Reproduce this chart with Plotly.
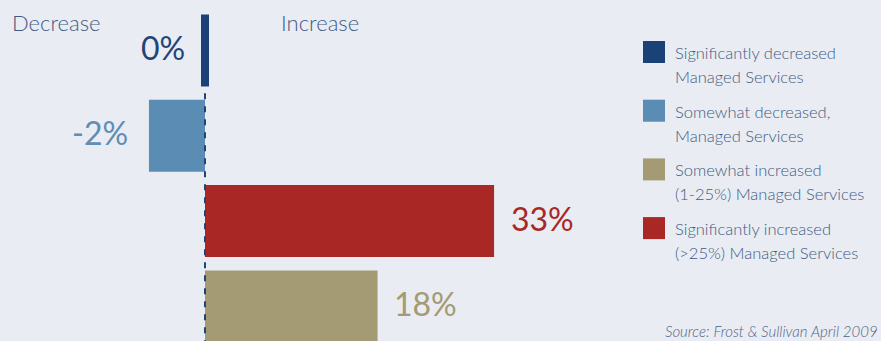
import plotly.graph_objects as go

# ---------------- data ----------------
categories = [
    "Significantly decreased Managed Services",
    "Somewhat decreased, Managed Services",
    "Significantly increased (>25%) Managed Services",
    "Somewhat increased (1-25%) Managed Services",
]
# bar lengths as drawn in the picture (percentage points)
bar_values = [0, -6.4, 33, 19.7]
value_labels = ["0%", "-2%", "33%", "18%"]

legend_order = [0, 1, 3, 2]
legend_lines = {
    0: ["Significantly decreased", "Managed Services"],
    1: ["Somewhat decreased,", "Managed Services"],
    3: ["Somewhat increased", "(1-25%) Managed Services"],
    2: ["Significantly increased", "(>25%) Managed Services"],
}
side_labels = ["Decrease", "Increase"]
source_text = "Source: Frost & Sullivan April 2009"

# ---------------- style ----------------
W, H = 881, 341
colors = ["#1b4276", "#5b8cb3", "#a92724", "#a49a74"]
label_colors = ["#1f4478", "#5e8db5", "#a92724", "#a49a74"]
text_color = "#3f5b84"
bg = "#e9ecf2"
FONT = "Lato"

ZERO_PX = 205.0
PX_PER_UNIT = 8.76
ROW0_PX = 50.5
ROW_PX = 85.3
BAR_PX = 72.0
ZERO_BAR_MIN = 8.0 / PX_PER_UNIT
label_gap = [14, 19, 15, 14]

x_range = [-ZERO_PX / PX_PER_UNIT, (W - ZERO_PX) / PX_PER_UNIT]
y_range = [(H - ROW0_PX) / ROW_PX, -ROW0_PX / ROW_PX]


def px(x):
    return x / W


def py(y):
    return 1 - y / H


fig = go.Figure()

for i, (cat, v) in enumerate(zip(categories, bar_values)):
    if v == 0:
        length, base = ZERO_BAR_MIN, -ZERO_BAR_MIN / 2
    else:
        length, base = v, 0
    fig.add_trace(go.Bar(
        y=[cat], x=[length], base=[base], orientation="h",
        width=BAR_PX / ROW_PX, name=cat, showlegend=False,
        marker=dict(color=colors[i], line=dict(width=0)),
        hoverinfo="skip",
    ))
    left = v <= 0
    end = base if v == 0 else v
    fig.add_annotation(
        x=end, y=i, xref="x", yref="y", text=value_labels[i],
        showarrow=False, xanchor="right" if left else "left", yanchor="middle",
        xshift=-label_gap[i] if left else label_gap[i], yshift=3,
        font=dict(family=FONT, size=32, color=label_colors[i], weight=400),
    )

# dashed zero line
fig.add_shape(type="line", xref="x", yref="y", x0=0, x1=0, y0=0.5, y1=y_range[0] + 0.1,
              line=dict(color="#1f4478", width=2, dash="6px,7px"), layer="above")

# Decrease / Increase headers
for lbl, xp in zip(side_labels, [10, 279]):
    fig.add_annotation(x=px(xp), y=py(23), xref="paper", yref="paper", text=lbl,
                       showarrow=False, xanchor="left", yanchor="middle",
                       font=dict(family=FONT, size=22, color=text_color, weight=300))

# manual legend
LEG_X, LEG_TOP, LEG_STEP, SQ = 643, 41, 58.7, 22
for k, ci in enumerate(legend_order):
    top = LEG_TOP + k * LEG_STEP
    fig.add_shape(type="rect", xref="paper", yref="paper",
                  x0=px(LEG_X), x1=px(LEG_X + SQ), y0=py(top), y1=py(top + SQ),
                  fillcolor=colors[ci], line=dict(width=0))
    for j, line in enumerate(legend_lines[ci]):
        fig.add_annotation(x=px(673), y=py(top + SQ / 2 + 1 + j * 24), xref="paper", yref="paper",
                           text=line, showarrow=False, xanchor="left", yanchor="middle",
                           font=dict(family=FONT, size=16.5, color=text_color, weight=300))

fig.add_annotation(x=px(880), y=py(331), xref="paper", yref="paper", text="<i>" + source_text + "</i>",
                   showarrow=False, xanchor="right", yanchor="middle",
                   font=dict(family=FONT, size=15, color="#4f6488", weight=300))

fig.update_layout(
    width=W, height=H, margin=dict(l=0, r=0, t=0, b=0),
    paper_bgcolor=bg, plot_bgcolor=bg, barmode="overlay", showlegend=False,
    xaxis=dict(range=x_range, visible=False, fixedrange=True),
    yaxis=dict(type="category", categoryorder="array", categoryarray=categories,
               range=y_range, visible=False, fixedrange=True),
)

fig.write_html("out.html", config={"displayModeBar": False})
